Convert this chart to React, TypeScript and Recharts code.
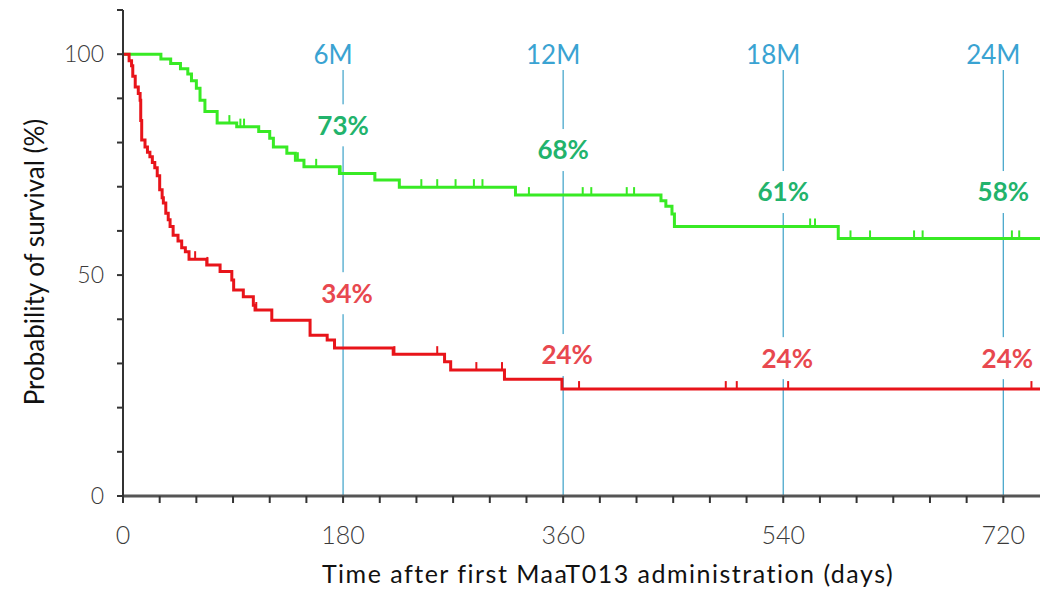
import React from 'react';
import { LineChart, Line, XAxis, YAxis, ReferenceLine, ReferenceDot } from 'recharts';

// ---- milestones & labels ----
const milestoneDays = [180, 360, 540, 720];
const milestoneLabels = ['6M', '12M', '18M', '24M'];
const greenPctLabels = ['73%', '68%', '61%', '58%'];
const redPctLabels = ['34%', '24%', '24%', '24%'];
const greenLabelLevels = [83.9, 78.3, 68.8, 68.8];
const redLabelLevels = [45.9, 31.9, 31.2, 31.2];

// ---- axis ticks ----
const xTickLabels = [0, 180, 360, 540, 720];
const yTickLabels = [0, 50, 100];

// ---- green curve (step events: day -> survival after step) ----
const greenStepDays = [0, 31, 39, 47, 53, 56, 60, 63, 67, 77, 93, 111, 120, 123, 134, 141, 148, 177, 206, 226, 321, 440, 444, 449, 451, 585, 750];
const greenStepValues = [100, 98.9, 97.9, 96.7, 95.5, 94, 92.3, 89.6, 87, 84.4, 83.6, 82.5, 81, 79, 77.6, 76, 74.5, 73, 71.5, 69.9, 68.1, 66.8, 65.6, 63.8, 61, 58.3, 58.3];
const greenCensorDays = [87, 96, 99, 143, 158, 178, 206, 244, 257, 272, 287, 294, 332, 376, 383, 412, 418, 562, 566, 595, 611, 647, 654, 727, 733];

// ---- red curve ----
const redStepDays = [0, 5, 7, 8, 10, 12.5, 14, 14.5, 15.3, 18, 20, 22, 24, 26, 28, 30, 32, 33, 35, 37, 38.5, 41, 45, 48, 51, 54, 68.5, 79.4, 89, 90.5, 98.4, 106.6, 108, 121.7, 153, 167, 173, 221, 263, 268, 312, 359, 750];
const redStepValues = [100, 98.5, 97.4, 95, 92.6, 91.1, 89.6, 85, 80.6, 79, 77.8, 76.8, 75.5, 74.3, 72.5, 69.3, 67.5, 66.3, 64, 62.5, 61, 59, 57.7, 56.2, 55.3, 53.6, 52.3, 50.8, 48.9, 46.6, 45.1, 43.2, 42.1, 39.8, 36.4, 35.3, 33.5, 32.1, 30.4, 28.5, 26.4, 24.2, 24.2];
const redCensorDays = [59, 69, 109, 222, 257, 289, 310, 373, 493, 502, 544, 743];

type Pt = { day: number; value: number; censor?: boolean };

function buildSeries(days: number[], values: number[], censors: number[]): Pt[] {
  const pts: Pt[] = days.map((d, i) => ({ day: d, value: values[i] }));
  censors.forEach((c) => {
    let v = values[0];
    for (let i = 0; i < days.length; i++) if (days[i] <= c) v = values[i];
    pts.push({ day: c, value: v, censor: true });
  });
  pts.sort((a, b) => a.day - b.day || (a.censor ? 1 : 0) - (b.censor ? 1 : 0));
  return pts;
}

const greenData = buildSeries(greenStepDays, greenStepValues, greenCensorDays);
const redData = buildSeries(redStepDays, redStepValues, redCensorDays);

const GREEN_LINE = '#38ea24';
const RED_LINE = '#e8141a';
const GREEN_TEXT = '#22b36c';
const RED_TEXT = '#e8484f';
const BLUE = '#3aa3d2';
const BLUE_LINE = '#4aa8cc';

const xTicks: number[] = [];
for (let d = 0; d <= 720; d += 30) xTicks.push(d);
const yTicks: number[] = [];
for (let v = 0; v <= 110; v += 10) yTicks.push(v);

const censorDot = (color: string) => (props: any) => {
  const { cx, cy, payload, index } = props;
  if (!payload || !payload.censor) return <g key={`n${index}`} />;
  return <line key={`c${index}`} x1={cx} x2={cx} y1={cy} y2={cy - 8} stroke={color} strokeWidth={2} />;
};

const XTick = (props: any) => {
  const { x, payload } = props;
  if (!xTickLabels.includes(payload.value)) return <g />;
  return (
    <text x={x} y={544} textAnchor="middle" fill="#3a3a3a" fontSize={25} fontFamily="Lato" fontWeight={300}>
      {payload.value}
    </text>
  );
};

const YTick = (props: any) => {
  const { y, payload } = props;
  if (!yTickLabels.includes(payload.value)) return <g />;
  return (
    <text x={104} y={y} dy="0.36em" textAnchor="end" fill="#3a3a3a" fontSize={23} fontFamily="Lato" fontWeight={300}>
      {payload.value}
    </text>
  );
};

const YLabel = () => (
  <text x={35} y={262} transform="rotate(-90 35 262)" dy="0.36em" textAnchor="middle" fill="#111" fontSize={26} fontFamily="Lato">
    Probability of survival (%)
  </text>
);

const XLabel = () => (
  <text x={608} y={583} textAnchor="middle" fill="#111" fontSize={25} letterSpacing={1.5} fontFamily="Lato">
    Time after first MaaT013 administration (days)
  </text>
);

const makeTag = (text: string, color: string, dx: number, bold: boolean, bg: boolean, size: number) => (props: any) => {
  const { cx, cy } = props;
  return (
    <g>
      {bg && <rect x={cx + dx - 38} y={cy - 21} width={76} height={42} fill="#fff" />}
      <text x={cx + dx} y={cy} dy="0.36em" textAnchor="middle" fill={color} fontSize={size} fontFamily="Lato" fontWeight={bold ? 700 : 400}>
        {text}
      </text>
    </g>
  );
};

export default function App() {
  return (
    <div style={{ position: 'absolute', left: 0, top: 0, width: 1040, height: 591, background: '#fff' }}>
      <LineChart width={1040} height={591} margin={{ top: 10, right: 0, bottom: 0, left: 0 }}>
        <XAxis
          type="number"
          dataKey="day"
          domain={[0, 750]}
          ticks={xTicks}
          tick={<XTick />}
          tickSize={7}
          tickLine={{ stroke: '#333', strokeWidth: 2 }}
          axisLine={{ stroke: '#555', strokeWidth: 3 }}
          height={95}
          allowDataOverflow
          label={<XLabel />}
        />
        <YAxis
          type="number"
          dataKey="value"
          domain={[0, 110]}
          ticks={yTicks}
          tick={<YTick />}
          tickSize={6}
          tickLine={{ stroke: '#333', strokeWidth: 2 }}
          axisLine={{ stroke: '#333', strokeWidth: 2 }}
          width={123}
          allowDataOverflow
          label={<YLabel />}
        />
        {milestoneDays.map((d) => (
          <ReferenceLine
            key={`rl${d}`}
            segment={[{ x: d, y: 0 }, { x: d, y: 96.4 }]}
            stroke={BLUE_LINE}
            strokeWidth={1.3}
          />
        ))}
        <Line
          data={greenData}
          dataKey="value"
          type="stepAfter"
          stroke={GREEN_LINE}
          strokeWidth={3}
          dot={censorDot(GREEN_LINE)}
          activeDot={false}
          isAnimationActive={false}
        />
        <Line
          data={redData}
          dataKey="value"
          type="stepAfter"
          stroke={RED_LINE}
          strokeWidth={3}
          dot={censorDot(RED_LINE)}
          activeDot={false}
          isAnimationActive={false}
        />
        {milestoneDays.map((d, i) => (
          <ReferenceDot key={`m${d}`} x={d} y={100} r={0} shape={makeTag(milestoneLabels[i], BLUE, -10, false, false, 26)} />
        ))}
        {milestoneDays.map((d, i) => (
          <ReferenceDot key={`g${d}`} x={d} y={greenLabelLevels[i]} r={0} shape={makeTag(greenPctLabels[i], GREEN_TEXT, 0, true, true, 26)} />
        ))}
        {milestoneDays.map((d, i) => (
          <ReferenceDot key={`r${d}`} x={d} y={redLabelLevels[i]} r={0} shape={makeTag(redPctLabels[i], RED_TEXT, 4, true, true, 26)} />
        ))}
      </LineChart>
    </div>
  );
}
